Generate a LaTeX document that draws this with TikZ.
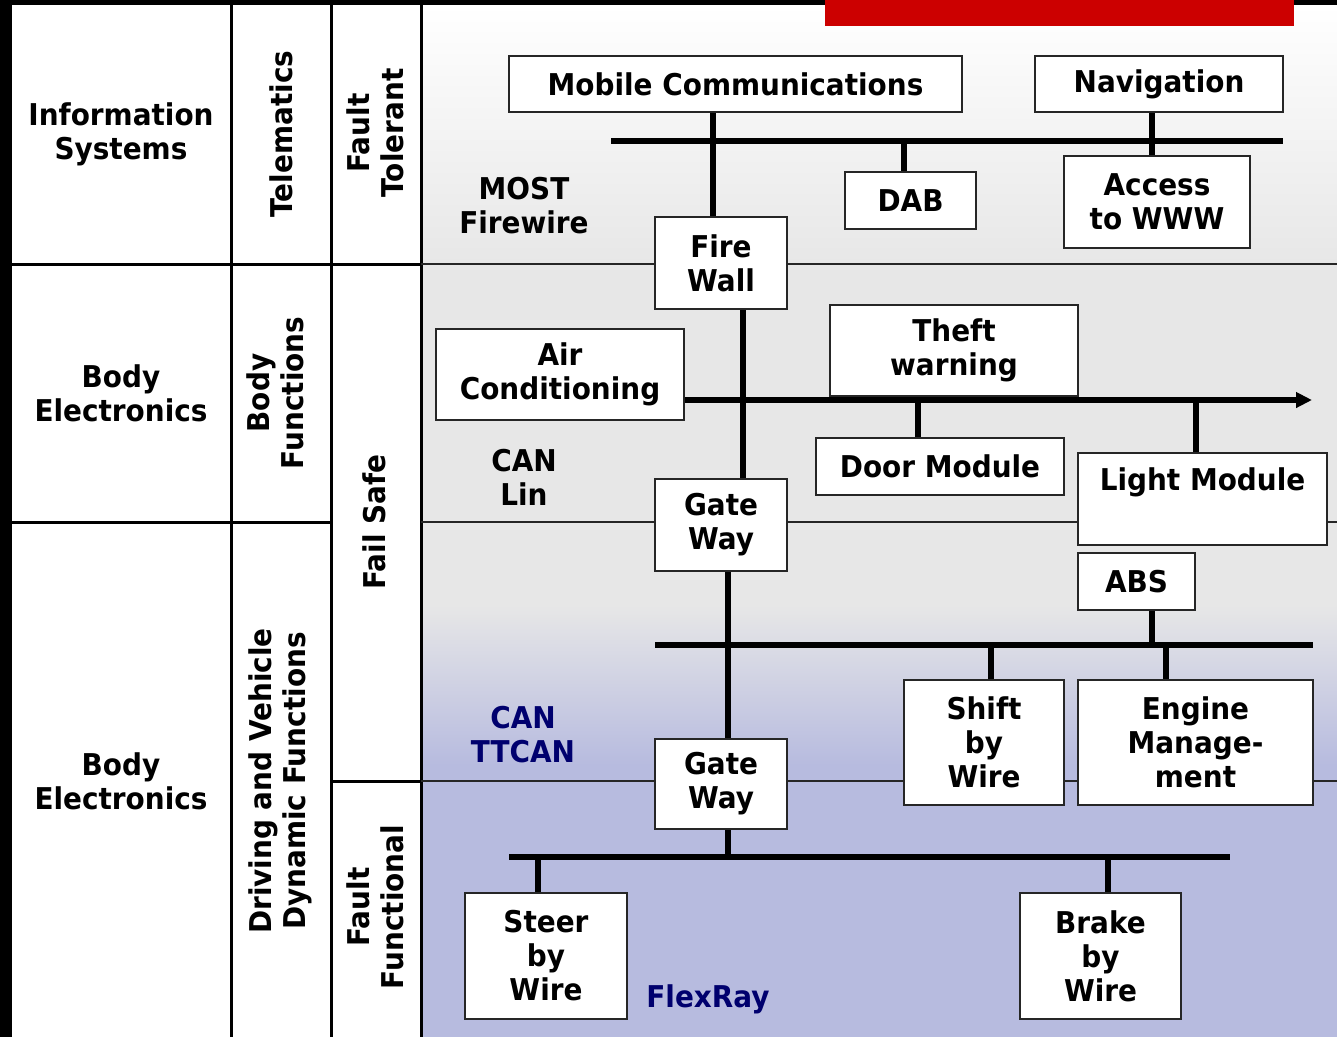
\documentclass[tikz,border=0pt]{standalone}
\usepackage{fontspec}
\newfontfamily\lblfont[FakeStretch=0.93]{DejaVu Sans}
\usetikzlibrary{arrows.meta,calc}
\definecolor{lav}{RGB}{183,187,223}
\definecolor{lgray}{RGB}{231,231,231}
\definecolor{navyt}{RGB}{0,0,110}
\definecolor{redbar}{RGB}{204,0,0}
\pgfdeclarelayer{bg}
\pgfsetlayers{bg,main}
\begin{document}
\begin{tikzpicture}[x=1pt,y=-1pt,
  txt/.style={font=\lblfont\bfseries\fontsize{30}{34}\selectfont, align=center, inner sep=0pt},
  box/.style={txt, draw=black!85, line width=2.5pt, fill=white},
  bus/.style={line width=6pt, black},
  grid/.style={line width=3pt, black},
  thin/.style={line width=2.5pt, black!85},
  navylbl/.style={txt, text=navyt}]
\useasboundingbox (0,0) rectangle (1337,1037);

% boxes
\node[box, minimum width=453pt, minimum height=56pt] (mc) at (735.5,84) {Mobile Communications};
\node[box, minimum width=248pt, minimum height=56pt] (nav) at (1159,84) {Navigation};
\node[box, minimum width=131pt, minimum height=57pt] (dab) at (910.5,200.5) {DAB};
\node[box, minimum width=186pt, minimum height=92pt] (www) at (1157,202) {Access\\to WWW};
\node[box, minimum width=132pt, minimum height=92pt] (fw) at (721,263) {Fire\\Wall};
\node[box, minimum width=248pt, minimum height=91pt] (ac) at (560,374.5) {Air\\Conditioning};
\node[box, minimum width=248pt, minimum height=91pt] (theft) at (954,350.5) {Theft\\warning};
\node[box, minimum width=248pt, minimum height=57pt] (door) at (940,466.5) {Door Module};
\node[box, minimum width=249pt, minimum height=92pt] (light) at (1202.5,499) {};
\node[txt] (lighttxt) at (1202.5,482) {Light Module};
\node[box, minimum width=132pt, minimum height=92pt] (gw1) at (721,525) {Gate\\Way};
\node[box, minimum width=117pt, minimum height=57pt] (abs) at (1136.5,581.5) {ABS};
\node[box, minimum width=160pt, minimum height=125pt] (shift) at (984,742.5) {Shift\\by\\Wire};
\node[box, minimum width=235pt, minimum height=125pt] (eng) at (1195.5,742.5) {Engine\\Manage-\\ment};
\node[box, minimum width=132pt, minimum height=90pt] (gw2) at (721,784) {Gate\\Way};
\node[box, minimum width=162pt, minimum height=126pt] (steer) at (546,956) {Steer\\by\\Wire};
\node[box, minimum width=161pt, minimum height=126pt] (brake) at (1100.5,956) {Brake\\by\\Wire};

% bus labels
\node[txt] (most) at (524,206) {MOST\\Firewire};
\node[txt] (canlin) at (524,477) {CAN\\Lin};
\node[navylbl] (ttcan) at (523,735) {CAN\\TTCAN};
\node[navylbl] (flexray) at (708,999) {FlexRay};

% table labels
\node[txt] (infosys) at (121,134) {Information\\Systems};
\node[txt] (bodyel1) at (121,393) {Body\\Electronics};
\node[txt] (bodyel2) at (121,781) {Body\\Electronics};
\node[txt, rotate=90] (telem) at (281,134) {Telematics};
\node[txt, rotate=90] (bodyfn) at (275,393) {Body\\Functions};
\node[txt, rotate=90] (drive) at (280,781) {Driving and Vehicle\\Dynamic Functions};
\node[txt, rotate=90] (ftol) at (375,133) {Fault\\Tolerant};
\node[txt, rotate=90] (fsafe) at (374,522) {Fail Safe};
\node[txt, rotate=90] (ffun) at (375,907) {Fault\\Functional};

% bus coordinates
\coordinate (mostL) at (611,141);
\coordinate (mostR) at (1283,141);
\coordinate (canR) at (1312,400);
\coordinate (can2L) at (655,645);
\coordinate (can2R) at (1313,645);
\coordinate (flexL) at (509,857);
\coordinate (flexR) at (1230,857);
\coordinate (dabT) at ([xshift=-6.5pt]dab.north);
\coordinate (doorT) at ([xshift=-22pt]door.north);
\coordinate (lightT) at ([xshift=-6.5pt]light.north);
\coordinate (absB) at ([xshift=15.5pt]abs.south);
\coordinate (shiftT) at ([xshift=7pt]shift.north);
\coordinate (engT) at ([xshift=-29.5pt]eng.north);
\coordinate (gw2B) at ([xshift=7pt]gw2.south);
\coordinate (steerT) at ([xshift=-8pt]steer.north);
\coordinate (brakeT) at ([xshift=7.5pt]brake.north);

\begin{pgfonlayer}{bg}
\fill[white] (0,0) rectangle (1337,1037);
\shade[top color=white, bottom color=lgray] (421,5) rectangle (1337,264);
\fill[lgray] (421,264) rectangle (1337,605);
\shade[top color=lgray, bottom color=lav] (421,605) rectangle (1337,765);
\fill[lav] (421,765) rectangle (1337,1037);
\fill[black] (0,0) rectangle (12,1037);
\fill[black] (0,0) rectangle (1337,5);
\fill[redbar] (825,0) rectangle (1294,26);
% grid
\draw[grid] (231,5) -- (231,1037);
\draw[grid] (331,5) -- (331,1037);
\draw[grid] (421,5) -- (421,1037);
\draw[grid] (12,264) -- (421,264);
\draw[thin] (421,264) -- (1337,264);
\draw[grid] (12,522) -- (331,522);
\draw[thin] (421,522) -- (1337,522);
\draw[grid] (331,781) -- (421,781);
\draw[thin] (421,781) -- (1337,781);
% buses and connectors
\draw[bus] (mostL) -- (mostR);
\draw[bus] ([xshift=-22.5pt]mc.south) -- ([xshift=-8pt]fw.north);
\draw[bus] (dabT) -- (dabT |- mostL);
\draw[bus] ([xshift=-7pt]nav.south) -- ([xshift=-5pt]www.north);
\draw[bus] ([xshift=22pt]fw.south) -- ([xshift=22pt]gw1.north);
\draw[bus, -{Triangle[length=16pt,width=15pt]}] (ac.east |- canR) -- (canR);
\draw[bus] (doorT) -- (doorT |- canR);
\draw[bus] (lightT) -- (lightT |- canR);
\draw[bus] ([xshift=7pt]gw1.south) -- ([xshift=7pt]gw2.north);
\draw[bus] (can2L) -- (can2R);
\draw[bus] (absB) -- (absB |- can2L);
\draw[bus] (shiftT) -- (shiftT |- can2L);
\draw[bus] (engT) -- (engT |- can2L);
\draw[bus] (flexL) -- (flexR);
\draw[bus] (gw2B) -- (gw2B |- flexL);
\draw[bus] (steerT) -- (steerT |- flexL);
\draw[bus] (brakeT) -- (brakeT |- flexL);
\end{pgfonlayer}
\end{tikzpicture}
\end{document}
